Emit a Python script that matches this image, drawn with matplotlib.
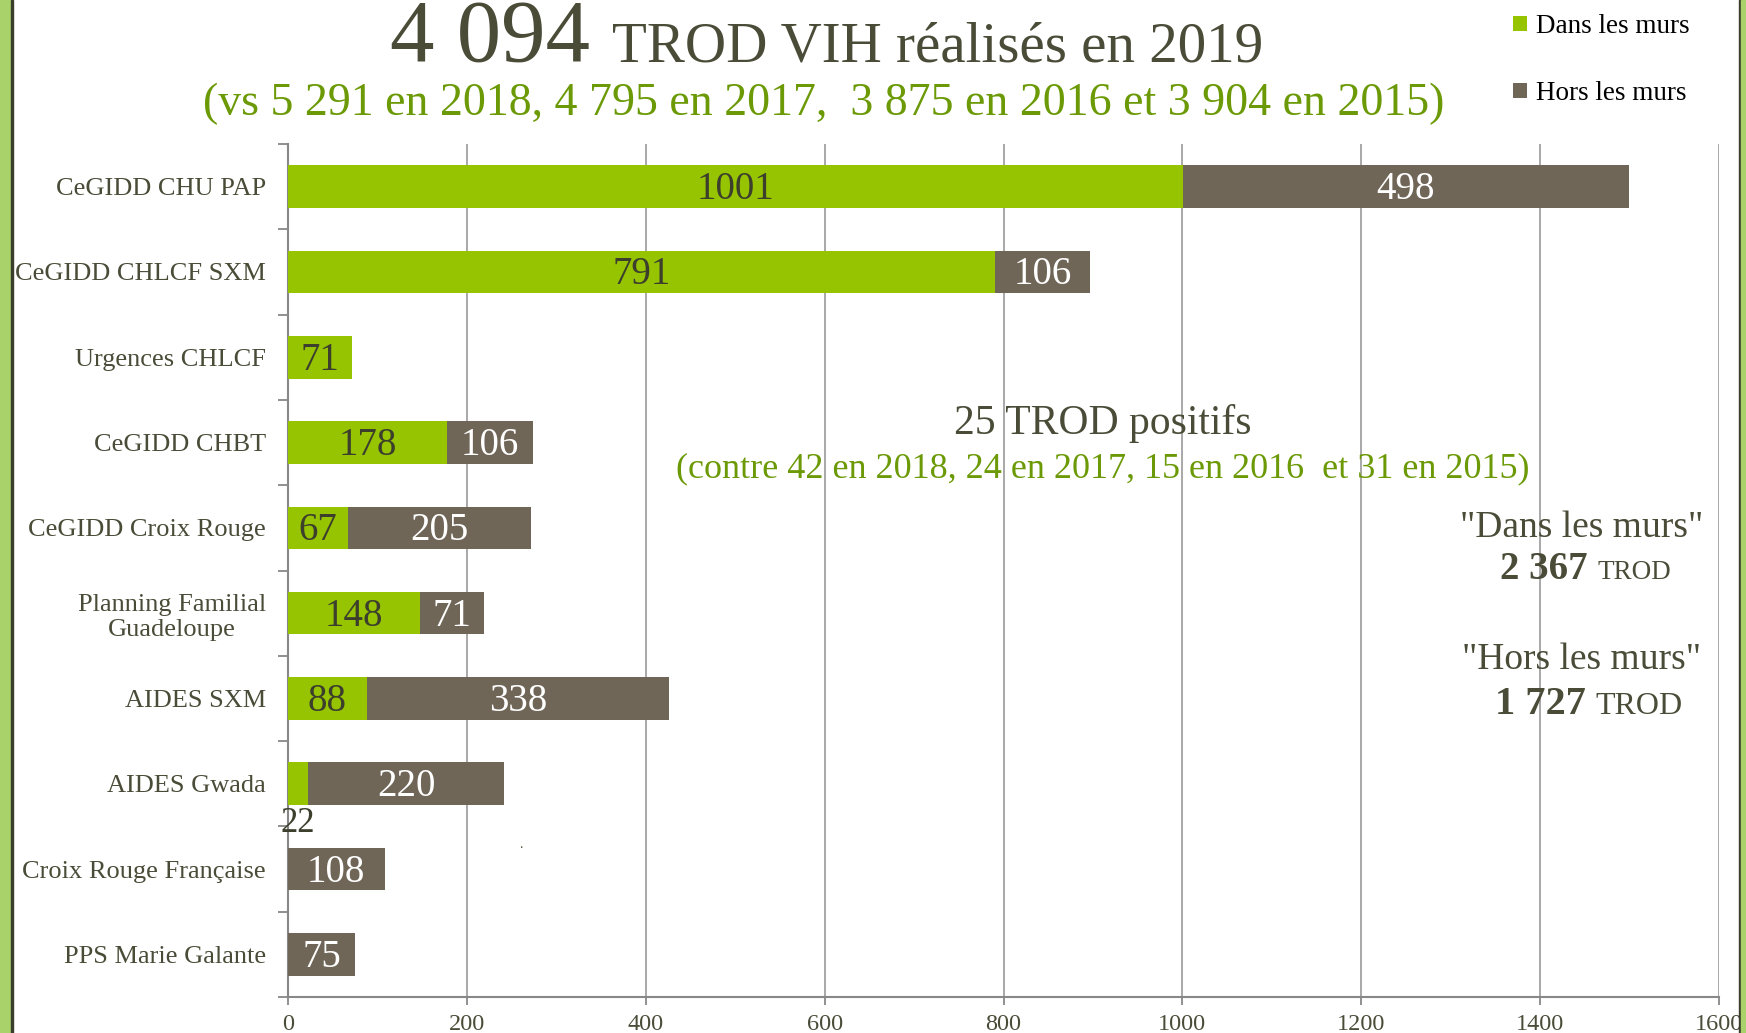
import matplotlib
matplotlib.use("Agg")
import matplotlib.pyplot as plt
from matplotlib.patches import Rectangle
import numpy as np

categories = ["CeGIDD CHU PAP", "CeGIDD CHLCF SXM", "Urgences CHLCF", "CeGIDD CHBT",
              "CeGIDD Croix Rouge", "Planning Familial\nGuadeloupe", "AIDES SXM",
              "AIDES Gwada", "Croix Rouge Française", "PPS Marie Galante"]
dans = [1001, 791, 71, 178, 67, 148, 88, 22, 0, 0]
hors = [498, 106, 0, 96, 205, 71, 338, 220, 108, 75]
dans_labels = ["1001", "791", "71", "178", "67", "148", "88", "22", "", ""]
hors_labels = ["498", "106", "", "106", "205", "71", "338", "220", "108", "75"]
xticks = [0, 200, 400, 600, 800, 1000, 1200, 1400, 1600]

GREEN = "#96C400"
BROWN = "#706658"
DARK = "#4A4C38"
GTXT = "#6B9A06"
GRID = "#A8A8A8"
FONT = "Liberation Serif"

plt.rcParams["font.family"] = [FONT, "DejaVu Serif"]

W, H = 1746, 1033
fig = plt.figure(figsize=(W / 100, H / 100), dpi=100)
ax = fig.add_axes([288 / W, 1 - 997 / H, (1719 - 288) / W, (997 - 144) / H])

y = np.arange(len(categories))
b1 = ax.barh(y, dans, height=0.5, color=GREEN, label="Dans les murs", zorder=3)
b2 = ax.barh(y, hors, left=dans, height=0.5, color=BROWN, label="Hors les murs", zorder=3)

for i in range(len(categories)):
    d, h = dans[i], hors[i]
    if dans_labels[i]:
        if d > 30:
            ax.annotate(dans_labels[i], (d / 2, i), xytext=(0, -3), textcoords="offset pixels",
                        ha="center", va="center", color="#3C3F2C", fontsize=28, zorder=4)
        else:
            ax.annotate(dans_labels[i], (d / 2, i), xytext=(0, -40), textcoords="offset pixels",
                        ha="center", va="center", color="#3C3F2C", fontsize=25, zorder=4)
    if hors_labels[i]:
        ax.annotate(hors_labels[i], (d + h / 2, i), xytext=(0, -3), textcoords="offset pixels",
                    ha="center", va="center", color="white", fontsize=28, zorder=4)

ax.set_xlim(0, 1600)
ax.set_ylim(len(categories) - 0.5, -0.5)
ax.set_xticks(xticks)
ax.set_xticklabels([str(t) for t in xticks], fontsize=17.5, color=DARK)
ax.set_yticks(np.arange(len(categories) + 1) - 0.5)
ax.set_yticklabels([])
ax.set_yticks(y, minor=True)
ax.set_yticklabels(categories, minor=True, fontsize=19, color=DARK)
for lbl in ax.get_yticklabels(minor=True):
    lbl.set_multialignment("center")
ax.tick_params(axis="y", which="major", length=7, width=1.3, color="#888888", direction="out")
ax.tick_params(axis="y", which="minor", length=0, pad=16)
ax.tick_params(axis="x", length=6, width=1.3, color="#888888", pad=6.5)
ax.grid(axis="x", color=GRID, linewidth=1.4, zorder=0)
for s in ["top", "right"]:
    ax.spines[s].set_visible(False)
for s in ["left", "bottom"]:
    ax.spines[s].set_color("#888888")
    ax.spines[s].set_linewidth(1.5)

# Titles
fig.text(590 / W, 1 - 61 / H, "4 094", ha="right", va="baseline", fontsize=64, color=DARK)
fig.text(612 / W, 1 - 61 / H, "TROD VIH réalisés en 2019", ha="left", va="baseline",
         fontsize=41, color=DARK)
fig.text(824 / W, 1 - 115 / H, "(vs 5 291 en 2018, 4 795 en 2017,  3 875 en 2016 et 3 904 en 2015)",
         ha="center", va="baseline", fontsize=33, color=GTXT)

# Middle annotation
fig.text(1103 / W, 1 - 434 / H, "25 TROD positifs", ha="center", va="baseline", fontsize=30, color=DARK)
fig.text(1103 / W, 1 - 477 / H, "(contre 42 en 2018, 24 en 2017, 15 en 2016  et 31 en 2015)",
         ha="center", va="baseline", fontsize=26, color=GTXT)

# Right annotations
fig.text(1582 / W, 1 - 537 / H, "\"Dans les murs\"", ha="center", va="baseline", fontsize=27, color=DARK)
fig.text(1588 / W, 1 - 579 / H, "2 367", ha="right", va="baseline", fontsize=28, fontweight="bold", color=DARK)
fig.text(1598 / W, 1 - 579 / H, "TROD", ha="left", va="baseline", fontsize=19.5, color=DARK)
fig.text(1582 / W, 1 - 669 / H, "\"Hors les murs\"", ha="center", va="baseline", fontsize=27, color=DARK)
fig.text(1586 / W, 1 - 714 / H, "1 727", ha="right", va="baseline", fontsize=29, fontweight="bold", color=DARK)
fig.text(1595 / W, 1 - 714 / H, "TROD", ha="left", va="baseline", fontsize=23, color=DARK)
fig.text(521 / W, 1 - 848 / H, ".", ha="center", va="baseline", fontsize=10, color=DARK)

# Legend
fig.legend(handles=[b1, b2], loc="upper left", bbox_to_anchor=(1513 / W, 1 - 14 / H),
           frameon=False, fontsize=19.5, handlelength=0.5, handleheight=0.5,
           handletextpad=0.35, labelspacing=1.55, borderpad=0, borderaxespad=0)

# Border stripes
fig.patches.append(Rectangle((0, 0), 11 / W, 1, transform=fig.transFigure, color="#A9D36A", zorder=10))
fig.patches.append(Rectangle((11 / W, 0), 2 / W, 1, transform=fig.transFigure, color="#3A3C2C", zorder=10))
fig.patches.append(Rectangle((1739 / W, 0), 2 / W, 1, transform=fig.transFigure, color="#3A3C2C", zorder=10))
fig.patches.append(Rectangle((1741 / W, 0), 5 / W, 1, transform=fig.transFigure, color="#A9D36A", zorder=10))

fig.savefig("out.png", dpi=100)
